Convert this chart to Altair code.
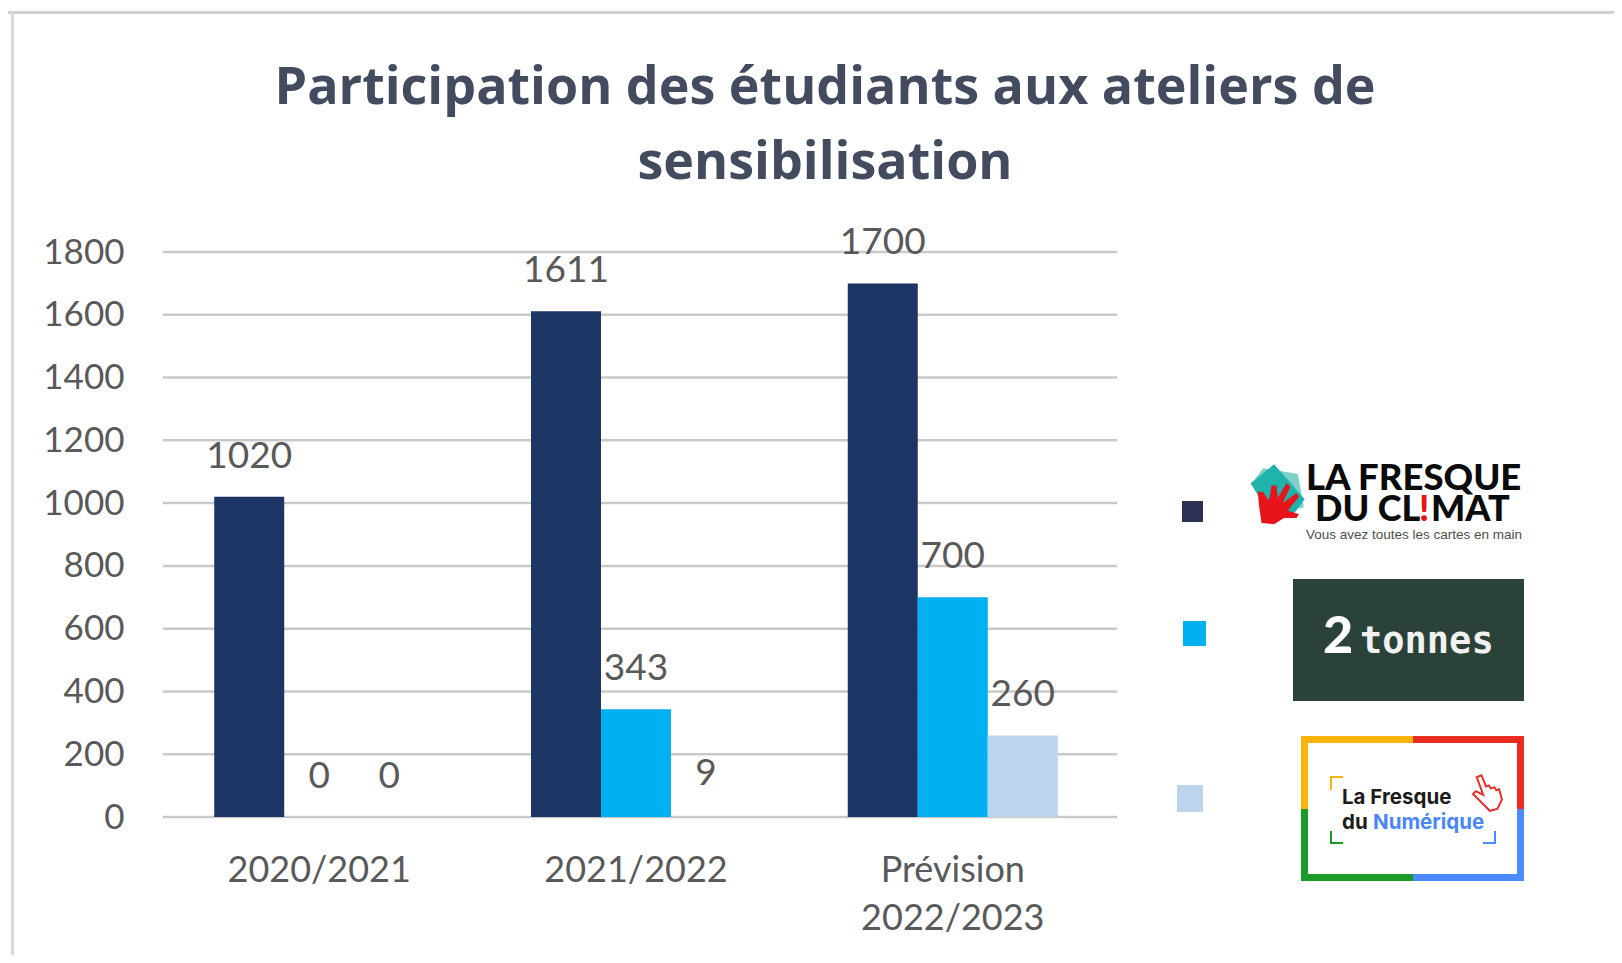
import altair as alt
import pandas as pd

years = ["2020/2021", "2021/2022", "Prévision|2022/2023"]
series = ["La Fresque du Climat", "2tonnes", "La Fresque du Numérique"]
climat = [1020, 1611, 1700]
tonnes = [0, 343, 700]
numerique = [0, 9, 260]
colors = ["#1c3564", "#00b0f0", "#bdd5ec"]
ticks = [0, 200, 400, 600, 800, 1000, 1200, 1400, 1600, 1800]
title_lines = ["Participation des étudiants aux ateliers de", "sensibilisation"]

PL, PT, W, H = 161, 252, 950, 565
X = lambda p: p - PL
Y = lambda p: p - PT
ONE = pd.DataFrame({"k": [0]})

rows = []
for i, y in enumerate(years):
    for s, v in zip(series, (climat[i], tonnes[i], numerique[i])):
        rows.append({"year": y, "series": s, "value": v})
df = pd.DataFrame(rows)

xenc = alt.X("year:N", sort=years, title=None,
             scale=alt.Scale(paddingInner=0.337, paddingOuter=0.168),
             axis=alt.Axis(domain=False, ticks=False, labelAngle=0, labelFontSize=36,
                           labelFont="Lato", labelColor="#595959", labelPadding=36,
                           labelLineHeight=48, labelBaseline="top", labelLimit=0,
                           labelExpr="split(datum.label,'|')"))
xoff = alt.XOffset("series:N", sort=series)
yenc = alt.Y("value:Q", title=None, scale=alt.Scale(domain=[0, 1800], nice=False),
             axis=alt.Axis(values=ticks, grid=False, domain=False, ticks=False, format="d",
                           labelFontSize=35, labelFont="Lato", labelColor="#595959",
                           labelPadding=37))

grid = alt.Chart(pd.DataFrame({"value": ticks})).mark_rule(color="#c9c9c9", strokeWidth=2.5).encode(
    y=alt.Y("value:Q", title=None, scale=alt.Scale(domain=[0, 1800], nice=False)),
    x=alt.value(2), x2=alt.value(X(1117)))
bars = alt.Chart(df).transform_filter("datum.value > 9").mark_bar(width=70).encode(
    x=xenc, xOffset=xoff, y=yenc,
    color=alt.Color("series:N", sort=series, legend=None,
                    scale=alt.Scale(domain=series, range=colors)))
labels = alt.Chart(df).mark_text(dy=-40, font="Lato", fontSize=37, color="#595959",
                                 baseline="middle").encode(
    x=alt.X("year:N", sort=years, title=None), xOffset=xoff,
    y=alt.Y("value:Q", title=None), text="value:Q")


def rect(x1, y1, x2, y2, fill):
    return alt.Chart(ONE).mark_rect(fill=fill).encode(
        x=alt.value(X(x1)), x2=alt.value(X(x2)), y=alt.value(Y(y1)), y2=alt.value(Y(y2)))


def txt(x, y, s, font, size, color, weight=400, align="left"):
    return alt.Chart(ONE).mark_text(text=s, font=font, fontSize=size, color=color,
                                    fontWeight=weight, align=align, baseline="alphabetic").encode(
        x=alt.value(X(x)), y=alt.value(Y(y)))


def shape(x, y, path, size, fill=None, stroke=None, sw=2):
    opts = dict(shape=path, size=size, opacity=1)
    if fill:
        opts.update(filled=True, fill=fill)
    else:
        opts.update(filled=False)
    if stroke:
        opts.update(stroke=stroke, strokeWidth=sw)
    return alt.Chart(ONE).mark_point(**opts).encode(x=alt.value(X(x)), y=alt.value(Y(y)))


card1 = "M-0.55,-0.75 L0.65,-0.55 L0.85,0.6 L-0.3,0.8 L-0.95,-0.2 Z"
card2 = "M-0.9,-0.3 L-0.1,-0.95 L0.95,0.25 L0.5,0.85 L-0.3,0.7 Z"
hand = ("M-0.7,0.8 L-0.8,0.1 L-0.85,-0.45 L-0.65,-0.45 L-0.4,-0.1 L-0.3,-0.7 L-0.1,-0.7 L-0.05,-0.2 "
        "L0.3,-0.8 L0.45,-0.65 L0.15,0 L0.7,-0.4 L0.8,-0.25 L0.35,0.3 L0.8,0.45 L0.7,0.6 L0.2,0.6 L-0.2,0.85 Z")
pointer = ("M-0.55,-0.85 L-0.3,-0.95 L-0.05,-0.35 L0.1,-0.4 L0.2,-0.25 L0.4,-0.3 L0.5,-0.15 L0.65,-0.2 "
           "L0.8,0.35 L0.55,0.85 L0.15,0.95 L-0.25,0.55 L-0.75,0.05 L-0.6,-0.1 L-0.2,0.1 Z")

decor = [
    rect(8, 11, 1622, 14, "#d2d2d2"),
    rect(11, 11, 14, 963, "#d9d9d9"),
    # title
    txt(825, 104, title_lines[0], "Open Sans", 52, "#434b5e", 700, "center"),
    txt(825, 179, title_lines[1], "Open Sans", 52, "#434b5e", 700, "center"),
    # swatches
    rect(1182, 501, 1203, 522, "#2e2f55"),
    rect(1183, 621, 1206, 646, "#00b0f0"),
    rect(1177, 785, 1203, 812, "#bdd5ec"),
    # La Fresque du Climat logo
    shape(1279, 490, card1, 3400, fill="#7fd0c8"),
    shape(1277, 492, card2, 3400, fill="#1fb3ab"),
    shape(1279, 503, hand, 2500, fill="#e8141c"),
    txt(1306, 490, "LA FRESQUE", "Lato", 36.5, "#0b0b0b", 900),
    txt(1315, 521, "DU CL", "Lato", 36, "#0b0b0b", 900),
    txt(1419, 521, "!", "Lato", 36, "#e8141c", 900),
    txt(1431, 521, "MAT", "Lato", 36, "#0b0b0b", 900),
    txt(1306, 539, "Vous avez toutes les cartes en main", "Liberation Sans", 13.5, "#4d4d4d"),
    # 2tonnes logo
    rect(1293, 579, 1524, 701, "#2a4238"),
    txt(1323, 653, "2", "Lato", 52, "#ffffff", 900),
    txt(1360, 653, "tonnes", "DejaVu Sans Mono", 37, "#f2f2f2", 700),
    # La Fresque du Numérique logo
    rect(1301, 736, 1413, 743, "#fbb40a"),
    rect(1301, 736, 1308, 809, "#fbb40a"),
    rect(1413, 736, 1524, 743, "#ea2b1f"),
    rect(1517, 736, 1524, 809, "#ea2b1f"),
    rect(1301, 809, 1308, 881, "#1a9a26"),
    rect(1301, 874, 1413, 881, "#1a9a26"),
    rect(1413, 874, 1524, 881, "#4a8cff"),
    rect(1517, 809, 1524, 881, "#4a8cff"),
    rect(1330, 776, 1343, 778, "#fbb40a"),
    rect(1330, 776, 1332, 790, "#fbb40a"),
    rect(1330, 842, 1343, 844, "#1a9a26"),
    rect(1330, 831, 1332, 844, "#1a9a26"),
    rect(1483, 842, 1496, 844, "#4a8cff"),
    rect(1494, 831, 1496, 844, "#4a8cff"),
    txt(1342, 804, "La Fresque", "Inter", 20.5, "#1c1c1c", 700),
    txt(1342, 829, "du", "Inter", 20.5, "#1c1c1c", 700),
    txt(1373, 829, "Numérique", "Inter", 20.5, "#4a86f5", 700),
    shape(1487, 793, pointer, 1400, stroke="#e8302a", sw=2),
]

chart = alt.layer(grid, bars, labels, *decor).properties(
    width=W, height=H,
    padding={"left": PL - 8, "top": PT - 8, "right": 1606 - (PL - 8) - W, "bottom": 138},
    autosize=alt.AutoSizeParams(type="none"),
    background="#ffffff",
).configure_view(stroke=None)

chart.save("out.html", embed_options={"renderer": "svg", "actions": False})
